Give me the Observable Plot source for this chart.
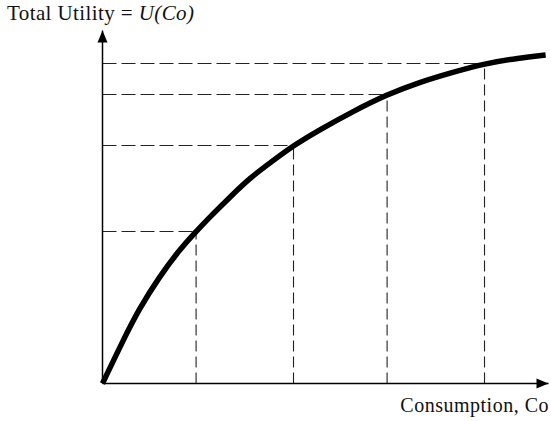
<!DOCTYPE html>
<html>
<head>
<meta charset="utf-8">
<script src="https://cdn.jsdelivr.net/npm/d3@7"></script>
<script src="https://cdn.jsdelivr.net/npm/@observablehq/plot@0.6"></script>
<style>
  html, body { margin: 0; padding: 0; background: #fff; }
  #wrap { position: relative; width: 551px; height: 421px; }
  .lbl { position: absolute; font-family: "Liberation Serif", "DejaVu Serif", serif; font-size: 20px; color: #111; white-space: nowrap; line-height: 1; }
  #ylab { left: 7px; top: 3px; font-size: 21px; letter-spacing: 0.4px; }
  #xlab { right: 2px; top: 395px; letter-spacing: 0.5px; }
</style>
</head>
<body>
<div id="wrap">
  <div id="chart"></div>
  <div class="lbl" id="ylab">Total Utility = <i>U(Co)</i></div>
  <div class="lbl" id="xlab">Consumption, Co</div>
</div>
<script>
// Utility curve (consumption units, utility units)
const curveX = [0, 0.22, 0.38, 0.59, 0.80, 0.98, 1.13, 1.34, 1.55, 1.76, 2.0, 2.26, 2.62, 2.98, 3.31, 3.66, 4.0, 4.36, 4.64];
const curveU = [0, 4.4, 7.4, 10.6, 13.3, 15.2, 16.7, 18.7, 20.6, 22.1, 23.8, 25.3, 27.2, 28.9, 30.1, 31.1, 32.0, 32.55, 32.85];
// Marked consumption levels and their utilities
const levelX = [0.98, 2.0, 2.98, 4.0];
const levelU = [15.2, 23.8, 28.9, 32.0];
// Axis extents
const xMax = 4.67;
const yMax = 35.3;

const curve = curveX.map((x, i) => ({x, u: curveU[i]}));
const levels = levelX.map((x, i) => ({x, u: levelU[i]}));

const arrowHead = {
  draw(context) {
    context.moveTo(0, 0);
    context.lineTo(5, 12);
    context.lineTo(-5, 12);
    context.closePath();
  }
};

const plot = Plot.plot({
  width: 551,
  height: 421,
  marginLeft: 102,
  marginRight: 3,
  marginTop: 30,
  marginBottom: 38,
  x: {domain: [0, xMax], axis: null},
  y: {domain: [0, yMax], axis: null},
  marks: [
    // dashed guides
    Plot.link(levels, {x1: "x", x2: "x", y1: 0, y2: "u", stroke: "#222", strokeWidth: 1.1, strokeDasharray: "11,5"}),
    Plot.link(levels, {x1: 0, x2: "x", y1: "u", y2: "u", stroke: "#222", strokeWidth: 1.1, strokeDasharray: "14,5"}),
    // axes
    Plot.link([{a: 0}], {x1: 0, x2: 0, y1: 0, y2: yMax, stroke: "#000", strokeWidth: 1.5, strokeLinecap: "butt"}),
    Plot.link([{a: 0}], {x1: 0, x2: xMax, y1: 0, y2: 0, stroke: "#000", strokeWidth: 1.5, strokeLinecap: "butt"}),
    Plot.dot([{x: 0, y: yMax}], {x: "x", y: "y", symbol: arrowHead, fill: "#000", stroke: "none"}),
    Plot.dot([{x: xMax, y: 0}], {x: "x", y: "y", symbol: arrowHead, fill: "#000", stroke: "none", rotate: 90}),
    // utility curve
    Plot.line(curve, {x: "x", y: "u", curve: "basis", stroke: "#000", strokeWidth: 5.5, strokeLinecap: "butt"})
  ]
});
document.getElementById("chart").appendChild(plot);
</script>
</body>
</html>
